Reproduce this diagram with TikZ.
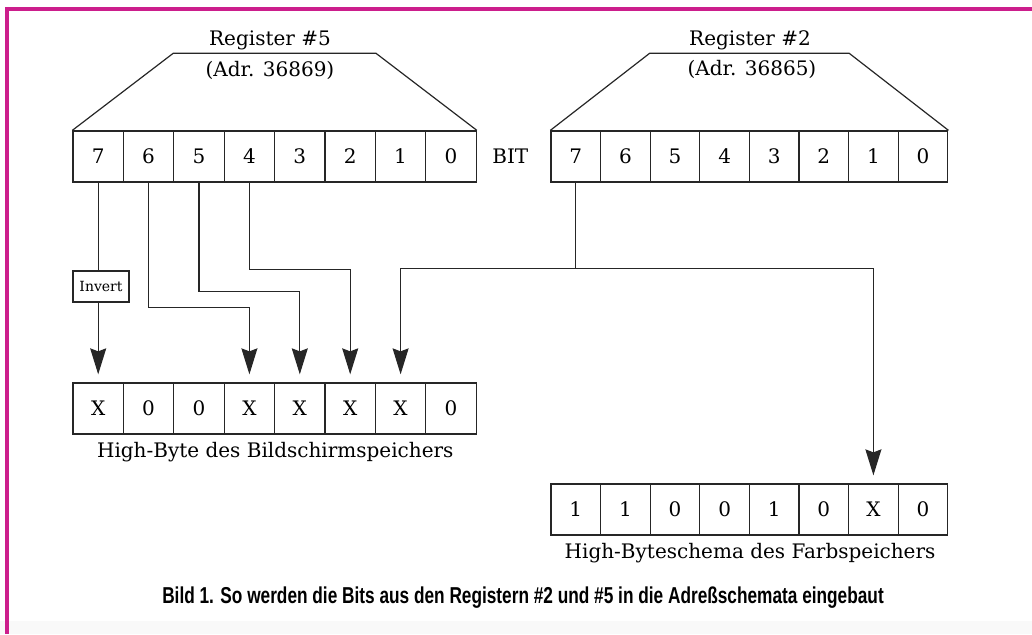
\documentclass[tikz,border=0pt]{standalone}
\usepackage{fontspec}
\setmainfont{DejaVu Serif}
\newfontfamily\capfont[FakeStretch=0.75]{Liberation Sans}
\usepackage{tikz}
\usetikzlibrary{arrows.meta, positioning, calc}
\definecolor{framemag}{RGB}{204,30,140}

\begin{document}
\begin{tikzpicture}[x=1pt, y=-1pt,
  wire/.style={line width=1.2pt, black!85},
  cellA/.style={draw=black!85, line width=1.3pt, minimum width=50.4pt, minimum height=51pt, inner sep=0pt, font=\fontsize{20}{20}\selectfont},
  cellB/.style={cellA, minimum width=49.6pt},
  arr/.style={wire, -{Stealth[length=26pt, width=16pt, inset=3pt]}, shorten >=8pt},
  lbl/.style={font=\fontsize{20}{22}\selectfont}]
\useasboundingbox (0,0) rectangle (1032,634);

% Frame
\fill[gray!5] (0,621) rectangle (1032,634);
\draw[framemag, line width=4pt] (5,9) -- (1032,9);
\draw[framemag, line width=4.5pt] (7,7) -- (7,634);

% Register #5
\foreach \b in {7,...,0}
  \node[cellA] (r5c\b) at ({73+(7-\b+0.5)*50.4},156.5) {\b};
\draw[wire] (r5c7.north west) -- ($(r5c5.north west)+(0,-77)$) -- ($(r5c2.north east)+(0,-77)$) -- (r5c0.north east);
\node[lbl] (r5name) at (270,40) {Register \#5};
\node[lbl] (r5adr) at (270,70) {(Adr. 36869)};
\node[lbl, right=12pt of r5c0] (bitlbl) {BIT};

% Register #2
\foreach \b in {7,...,0}
  \node[cellB] (r2c\b) at ({551+(7-\b+0.5)*49.6},156.5) {\b};
\draw[wire] (r2c7.north west) -- ($(r2c5.north west)+(0,-77)$) -- ($(r2c2.north east)+(0,-77)$) -- (r2c0.north east);
\node[lbl] (r2name) at (750,40) {Register \#2};
\node[lbl] (r2adr) at (752,69) {(Adr. 36865)};

% High-Byte des Bildschirmspeichers
\foreach \v/\b in {X/7,0/6,0/5,X/4,X/3,X/2,X/1,0/0}
  \node[cellA] (bl\b) at ({73+(7-\b+0.5)*50.4},408.5) {\v};
\node[lbl, below=4pt of bl4.south east] (bllbl) {High-Byte des Bildschirmspeichers};

% High-Byteschema des Farbspeichers
\foreach \v/\b in {1/7,1/6,0/5,0/4,1/3,0/2,X/1,0/0}
  \node[cellB] (br\b) at ({551+(7-\b+0.5)*49.6},509.5) {\v};
\node[lbl, below=4pt of br4.south east] (brlbl) {High-Byteschema des Farbspeichers};

% Invert
\node[draw=black!85, line width=1.2pt, font=\fontsize{14}{14}\selectfont, minimum width=56pt, minimum height=31pt, inner sep=0pt] (inv) at (101,286.5) {Invert};

% Bits from register #5
\draw[wire] (r5c7.south) -- (r5c7.south |- inv.north);
\draw[arr] (inv.south -| bl7.north) -- (bl7.north);
\draw[arr] (r5c6.south) -- ++(0,125) -| (bl4.north);
\draw[arr] (r5c5.south) -- ++(0,109) -| (bl3.north);
\draw[arr] (r5c4.south) -- ++(0,87) -| (bl2.north);

% Bit from register #2
\draw[wire] (r2c7.south) -- ++(0,86) coordinate (jn);
\draw[arr] (jn) -| (bl1.north);
\draw[arr] (jn) -| (br1.north);

% Caption
\node[font=\capfont\bfseries\fontsize{23}{25}\selectfont] (caption) at (523,598) {Bild 1. So werden die Bits aus den Registern \#2 und \#5 in die Adreßschemata eingebaut};
\end{tikzpicture}
\end{document}
